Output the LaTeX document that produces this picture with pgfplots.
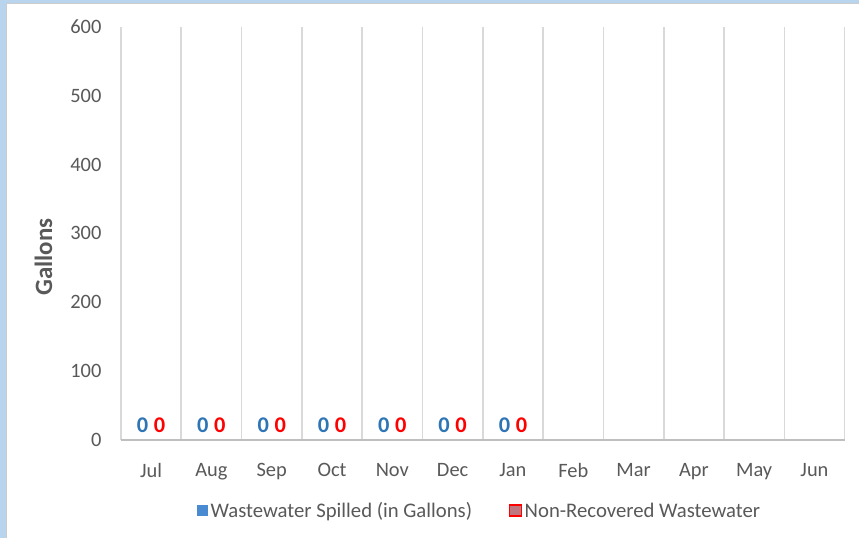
\documentclass[border=0pt]{standalone}
\usepackage{pgfplots}
\pgfplotsset{compat=1.18}
\usepackage{fontspec}
\setmainfont{Carlito}
\definecolor{txt}{RGB}{89,89,89}
\definecolor{gridc}{RGB}{217,217,217}
\definecolor{axc}{RGB}{191,191,191}
\definecolor{sblue}{RGB}{46,117,182}
\definecolor{lblue}{RGB}{74,138,208}
\definecolor{nred}{RGB}{255,0,0}
\definecolor{nfill}{RGB}{192,120,128}
\definecolor{frameb}{RGB}{185,213,238}
\begin{document}
\begin{tikzpicture}[x=1bp,y=1bp]
\fill[white] (0,0) rectangle (859,538);
\fill[frameb] (0,0) rectangle (6,538);
\fill[frameb] (0,535) rectangle (859,538);
\draw[gray!40, line width=0.8bp] (6.5,0) -- (6.5,534.5) -- (859,534.5);
\begin{axis}[
  at={(121bp,98bp)}, anchor=south west,
  scale only axis, width=724bp, height=413bp,
  xmin=-0.5, xmax=11.5, ymin=0, ymax=600,
  /pgf/number format/assume math mode=true,
  ybar=3bp, bar width=14bp,
  xtick={0,...,11},
  xticklabels={Jul,Aug,Sep,Oct,Nov,Dec,Jan,Feb,Mar,Apr,May,Jun},
  minor xtick={-0.5,0.5,...,11.5},
  xminorgrids, minor grid style={gridc, line width=1.6bp},
  ytick={0,100,...,600},
  major tick length=0pt, minor tick length=0pt,
  axis line style={draw=none},
  ticklabel style={font=\fontsize{20.5}{24}\selectfont, text=txt},
  xticklabel style={yshift=-20bp},
  yticklabel style={xshift=-16bp},
  ylabel={\textbf{Gallons}},
  ylabel style={font=\fontsize{25}{28}\selectfont, text=txt, anchor=center},
  y label style={at={(axis description cs:-0.107,0.443)}},
  nodes near coords,
  every node near coord/.append style={font=\fontsize{22.5}{26}\selectfont\bfseries, anchor=south, yshift=4bp},
  legend columns=2,
  legend style={at={(rel axis cs:0.496,-0.172)}, anchor=center, draw=none, fill=none,
    font=\fontsize{20.8}{24}\selectfont, text=txt,
    nodes={inner xsep=2.5bp},
    /tikz/every even column/.append style={column sep=34bp}},
  clip=false,
]
\addplot[draw=none, fill=lblue, nodes near coords style={text=sblue},
  legend image code/.code={\fill[lblue] (0bp,-5.5bp) rectangle (11bp,5.5bp);}]
  coordinates {(0,0) (1,0) (2,0) (3,0) (4,0) (5,0) (6,0)};
\addlegendentry{Wastewater Spilled (in Gallons)}
\addplot[draw=none, fill=nfill, nodes near coords style={text=nred},
  legend image code/.code={\filldraw[fill=nfill, draw=nred, line width=1.6bp] (-0.5bp,-5.5bp) rectangle (11.5bp,6bp);}]
  coordinates {(0,0) (1,0) (2,0) (3,0) (4,0) (5,0) (6,0)};
\addlegendentry{Non-Recovered Wastewater}
\draw[axc, line width=2.2bp] (rel axis cs:0,0) -- (rel axis cs:1,0);
\end{axis}
\end{tikzpicture}
\end{document}
